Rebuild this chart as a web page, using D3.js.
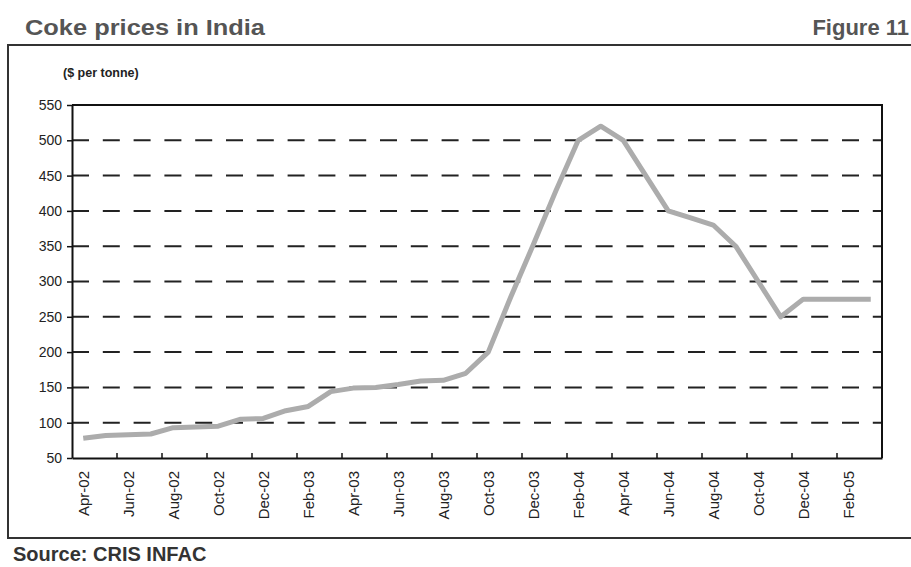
<!DOCTYPE html>
<html>
<head>
<meta charset="utf-8">
<script src="https://cdn.jsdelivr.net/npm/d3@7"></script>
<style>
  body { margin: 0; background: #fff; }
  svg { display: block; }
</style>
</head>
<body>
<svg id="chart" width="911" height="567"></svg>
<script>
// Monthly coke prices, Apr-02 to Mar-05 ($ per tonne)
const months = [
  "Apr-02","May-02","Jun-02","Jul-02","Aug-02","Sep-02","Oct-02","Nov-02","Dec-02",
  "Jan-03","Feb-03","Mar-03","Apr-03","May-03","Jun-03","Jul-03","Aug-03","Sep-03",
  "Oct-03","Nov-03","Dec-03","Jan-04","Feb-04","Mar-04","Apr-04","May-04","Jun-04",
  "Jul-04","Aug-04","Sep-04","Oct-04","Nov-04","Dec-04","Jan-05","Feb-05","Mar-05"
];
const prices = [
  78, 82, 83, 84, 93, 94, 95, 105, 106,
  117, 123, 144, 149, 150, 154, 159, 160, 170,
  200, 278, 352, 428, 500, 520, 500, 450, 400,
  390, 380, 350, 300, 250, 275, 275, 275, 275
];
// Every second month carries a label
const xTickLabels = months.filter((m, i) => i % 2 === 0);
const yTicks = [50, 100, 150, 200, 250, 300, 350, 400, 450, 500, 550];
const gridValues = yTicks.filter(v => v > 50 && v < 550);

const svg = d3.select("#chart");
const font = "'Liberation Sans', Arial, Helvetica, sans-serif";
const plot = { left: 72, right: 882, top: 105, bottom: 458 };

const x = d3.scaleBand().domain(months).range([plot.left, plot.right]);
const y = d3.scaleLinear().domain([50, 550]).range([plot.bottom, plot.top]);

// Header
svg.append("text")
  .attr("x", 25).attr("y", 35)
  .attr("font-family", font).attr("font-size", 22).attr("font-weight", "bold")
  .attr("fill", "#555")
  .attr("textLength", 240).attr("lengthAdjust", "spacingAndGlyphs")
  .text("Coke prices in India");
svg.append("text")
  .attr("x", 909).attr("y", 35)
  .attr("text-anchor", "end")
  .attr("font-family", font).attr("font-size", 22).attr("font-weight", "bold")
  .attr("fill", "#555")
  .text("Figure 11");

// Outer frame (right edge runs past the page)
svg.append("rect")
  .attr("x", 8).attr("y", 45).attr("width", 930).attr("height", 493)
  .attr("fill", "none").attr("stroke", "#333").attr("stroke-width", 2);

// Unit label
svg.append("text")
  .attr("x", 63).attr("y", 77)
  .attr("font-family", font).attr("font-size", 12.5).attr("font-weight", "bold")
  .attr("fill", "#222")
  .text("($ per tonne)");

// Dashed gridlines
svg.append("g").selectAll("line").data(gridValues).join("line")
  .attr("x1", plot.left).attr("x2", plot.right)
  .attr("y1", d => y(d)).attr("y2", d => y(d))
  .attr("stroke", "#222").attr("stroke-width", 2)
  .attr("stroke-dasharray", "17,13.8");

// Plot border (top and right)
svg.append("path")
  .attr("d", `M${plot.left},${y(550)}H${plot.right}V${plot.bottom}`)
  .attr("fill", "none").attr("stroke", "#111").attr("stroke-width", 2);

// Y axis
const yAxis = svg.append("g")
  .attr("transform", `translate(${plot.left},0)`)
  .call(d3.axisLeft(y).tickValues(yTicks).tickSize(5).tickSizeOuter(0).tickPadding(5));
yAxis.select(".domain").attr("stroke", "#111").attr("stroke-width", 2);
yAxis.selectAll(".tick line").attr("stroke", "#111").attr("stroke-width", 1.5);
yAxis.selectAll("text")
  .attr("font-family", font).attr("font-size", 14).attr("fill", "#222");

// X axis: labels centred on their month, rotated
const xAxis = svg.append("g")
  .attr("transform", `translate(0,${plot.bottom})`)
  .call(d3.axisBottom(x).tickValues(xTickLabels).tickSize(0).tickSizeOuter(0));
xAxis.select(".domain").attr("stroke", "#111").attr("stroke-width", 2);
xAxis.selectAll("text")
  .attr("font-family", font).attr("font-size", 15).attr("fill", "#222")
  .attr("transform", "rotate(-90)")
  .attr("x", -13).attr("y", 0).attr("dy", "0.35em")
  .style("text-anchor", "end");

// X tick marks between every second month, pointing into the plot
const tickMonths = months.filter((m, i) => i > 0 && i % 2 === 0);
svg.append("g").selectAll("line").data(tickMonths).join("line")
  .attr("x1", d => x(d)).attr("x2", d => x(d))
  .attr("y1", plot.bottom).attr("y2", plot.bottom - 5)
  .attr("stroke", "#111").attr("stroke-width", 1.5);

// Price line
const line = d3.line()
  .x((d, i) => x(months[i]) + x.bandwidth() / 2)
  .y(d => y(d));
svg.append("path")
  .datum(prices)
  .attr("d", line)
  .attr("fill", "none")
  .attr("stroke", "#acacac")
  .attr("stroke-width", 5)
  .attr("stroke-linejoin", "round")
  .attr("stroke-linecap", "butt");

// Source
svg.append("text")
  .attr("x", 13).attr("y", 561)
  .attr("font-family", font).attr("font-size", 20).attr("font-weight", "bold")
  .attr("fill", "#333")
  .text("Source: CRIS INFAC");
</script>
</body>
</html>
